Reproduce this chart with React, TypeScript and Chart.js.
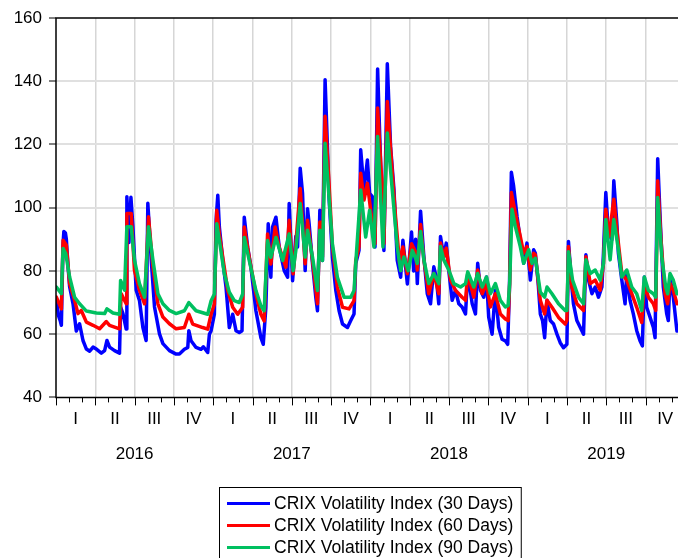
import React, { useEffect, useRef } from 'react';
import { Chart, registerables } from 'chart.js';

Chart.register(...registerables);

// x = months since 1 Jan 2016, y = index value
const crix30: [number, number][] = [
  [0.03,71],[0.18,66],[0.34,64],[0.41,62.8],[0.53,88],[0.60,92.5],[0.72,92],[0.79,90],[0.91,82],[1.04,75],
  [1.30,69.6],[1.55,61],[1.80,63.3],[2.06,58],[2.32,55.3],[2.57,54.6],[2.83,55.9],[3.08,55.3],[3.46,54],[3.71,54.8],
  [3.89,58],[4.09,55.9],[4.47,54.8],[4.85,54],[4.93,68.6],[5.11,66.5],[5.36,61.6],[5.41,103.5],[5.57,89],[5.72,103.3],
  [5.87,94],[6.12,73.9],[6.37,70.7],[6.63,62.2],[6.88,58],[7.01,101.4],[7.27,83.4],[7.52,68.6],[7.90,60.1],[8.16,57],
  [8.66,54.8],[9.17,53.7],[9.42,53.7],[9.80,55.2],[10.06,55.8],[10.14,61.1],[10.31,57.9],[10.69,55.8],[11.07,55.2],[11.25,56],
  [11.58,54.2],[11.71,60],[11.84,61.1],[12.09,66.3],[12.22,96],[12.35,103.9],[12.47,93.9],[12.73,83.3],[12.98,74.8],[13.23,62.1],
  [13.49,66.3],[13.74,61.1],[13.99,60.5],[14.20,61.1],[14.37,97],[14.63,87.5],[14.88,81.2],[15.26,67.4],[15.64,58.9],[15.82,56.8],
  [16.02,68.5],[16.20,94.9],[16.40,78],[16.53,93.9],[16.79,97],[17.04,87.5],[17.42,80.1],[17.68,78],[17.80,101.3],[18.06,76.9],
  [18.31,91],[18.44,87.6],[18.64,112.5],[18.82,104.5],[19.02,80.1],[19.20,99.7],[19.32,95],[19.58,82.3],[19.83,71.7],[19.96,67.4],
  [20.14,99.2],[20.34,83.3],[20.54,140.5],[20.72,119.3],[20.84,103.4],[21.10,84.4],[21.36,73.8],[21.61,67.4],[21.87,63.2],[22.25,62.1],
  [22.50,64.3],[22.75,66.4],[22.88,82.3],[23.13,86.5],[23.26,118.3],[23.51,105.6],[23.77,115.1],[23.94,104.5],[24.15,103.5],[24.35,87.6],
  [24.55,143.9],[24.78,114],[25.03,86.5],[25.29,145.5],[25.54,119.3],[25.80,105.6],[26.05,83.3],[26.31,78],[26.48,89.7],[26.82,75.9],
  [27.14,92.3],[27.30,80],[27.45,90],[27.58,76],[27.83,98.9],[28.08,84.5],[28.34,72.8],[28.59,69.6],[28.84,81.3],[29.02,78.1],
  [29.22,69.6],[29.35,90.9],[29.60,84.5],[29.79,88.8],[29.98,80.2],[30.24,70.7],[30.49,73.9],[30.75,69.6],[31.00,68.6],[31.26,66.4],
  [31.43,79.2],[31.77,69.6],[32.02,66.4],[32.19,82.4],[32.40,73.9],[32.65,71.7],[32.86,78.1],[33.03,65.4],[33.29,60],[33.54,73.9],
  [33.79,62.2],[34.05,58.4],[34.30,57.9],[34.48,56.8],[34.61,73.9],[34.76,111.2],[34.93,106.9],[35.19,97.3],[35.44,89.9],[35.70,82.4],
  [35.95,88.8],[36.21,77.1],[36.46,86.7],[36.59,85.6],[36.79,77.1],[36.97,66.4],[37.14,64.3],[37.30,58.9],[37.48,70.7],[37.73,64.3],
  [37.98,63.2],[38.24,60],[38.49,57.3],[38.74,55.7],[39.00,56.8],[39.12,89.3],[39.33,77.1],[39.50,69.6],[39.76,64.3],[40.02,62.1],
  [40.27,60],[40.45,85.1],[40.65,77.1],[40.91,72.8],[41.16,74.9],[41.41,71.7],[41.67,74.9],[41.79,85.6],[41.97,104.8],[42.17,92],
  [42.43,89.9],[42.58,108.5],[42.81,95.2],[42.93,85.6],[43.19,77.1],[43.44,69.6],[43.57,79.2],[43.82,70.7],[44.07,66.4],[44.33,61.1],
  [44.58,57.9],[44.76,56.3],[44.91,78.1],[45.09,68.5],[45.35,65.3],[45.60,62.1],[45.73,58.9],[45.93,115.5],[46.11,97.3],[46.36,74.9],
  [46.62,66.4],[46.74,64.3],[46.87,78.1],[47.12,71.7],[47.40,61]
];

const crix60: [number, number][] = [
  [0.03,71.7],[0.41,68],[0.54,89.7],[0.79,88.1],[1.04,76],[1.42,70.7],[1.68,66.5],[1.93,67.5],[2.32,63.8],[2.83,62.8],
  [3.33,61.7],[3.84,64],[4.09,62.8],[4.85,61.7],[4.98,72.8],[5.36,69.6],[5.41,98.2],[5.74,98.2],[5.99,80.2],[6.37,73.9],
  [6.76,69.6],[7.06,97.1],[7.40,81.3],[7.78,69.6],[8.16,65.4],[8.66,63.3],[9.17,61.7],[9.80,62.1],[10.14,66.3],[10.44,63.2],
  [11.20,62.1],[11.58,61.6],[11.84,66.3],[12.09,69.5],[12.27,99.2],[12.47,91.7],[12.73,84.3],[13.11,73.8],[13.49,68.5],[13.87,66.3],
  [14.25,68.5],[14.37,93.9],[14.75,84.3],[15.26,72.7],[15.64,66.3],[15.89,64.2],[16.15,91.7],[16.40,82.2],[16.73,93.9],[17.04,87.5],
  [17.55,81.2],[17.80,96],[18.10,79.1],[18.31,88.6],[18.64,106.1],[19.02,82.3],[19.20,96],[19.58,83.3],[19.96,69.6],[20.14,95.5],
  [20.34,84.4],[20.54,128.9],[20.80,110.9],[21.10,87.6],[21.48,74.9],[21.87,68.5],[22.37,68],[22.75,70.6],[22.88,83.3],[23.13,87.6],
  [23.26,110.9],[23.51,102.4],[23.77,107.7],[24.02,99.2],[24.35,88.6],[24.55,131.5],[24.86,108.7],[25.03,88.6],[25.29,133.6],[25.62,114],
  [25.92,97.1],[26.23,82.3],[26.48,87.6],[26.82,79.1],[27.14,88.6],[27.45,86],[27.58,80.3],[27.83,94.7],[28.08,83.5],[28.46,72.8],
  [28.84,79.2],[29.22,72.8],[29.35,88.8],[29.60,84.5],[29.79,87.2],[30.11,77.1],[30.49,73.9],[31.00,71.7],[31.26,70.7],[31.43,79.2],
  [31.89,71.7],[32.19,80.3],[32.53,72.8],[32.86,76],[33.16,68.6],[33.54,72.8],[33.92,66.4],[34.30,64.8],[34.51,64.3],[34.63,76],
  [34.76,104.8],[35.06,98.4],[35.44,90.9],[35.70,85.6],[35.95,87.7],[36.21,80.3],[36.46,85.6],[36.59,85.1],[36.97,70.7],[37.30,66.4],
  [37.48,70.7],[37.86,68.5],[38.36,65.3],[38.87,63.2],[39.00,64.3],[39.12,87.7],[39.38,74.9],[39.76,69.6],[40.27,67.5],[40.45,84.5],
  [40.78,76],[41.16,77.1],[41.54,73.9],[41.79,82.4],[41.97,99.5],[42.22,90.9],[42.58,102.7],[42.81,93.1],[43.19,79.2],[43.57,77.1],
  [43.95,72.8],[44.33,68.5],[44.71,63.7],[44.91,76],[45.22,71.7],[45.60,69.6],[45.78,67.5],[45.93,108.5],[46.18,89.9],[46.49,72.8],
  [46.69,69.6],[46.87,76],[47.12,73.9],[47.40,69.6]
];

const crix90: [number, number][] = [
  [0.03,74.9],[0.41,72.8],[0.54,87.1],[0.74,85.5],[1.04,78.1],[1.42,71.7],[1.80,69.6],[2.32,67.3],[3.08,66.7],[3.71,66.5],
  [3.89,68],[4.35,66.7],[4.85,66.3],[4.93,77],[5.23,73.9],[5.41,94],[5.74,94],[5.99,83.4],[6.37,76],[6.76,71.7],
  [7.06,94],[7.40,83.4],[7.78,72.8],[8.16,69.6],[8.66,67.5],[9.17,66.5],[9.80,67.4],[10.14,70],[10.69,67.4],[11.58,66.3],
  [11.84,70.6],[12.09,72.7],[12.27,94.9],[12.47,89.6],[12.85,79.1],[13.23,73.3],[13.61,70.6],[13.99,70],[14.25,72.7],[14.37,90.6],
  [14.75,83.3],[15.26,73.8],[15.64,69],[15.89,67.4],[16.15,89.6],[16.40,84.3],[16.79,90.6],[17.30,83.3],[17.80,91.7],[18.10,80.1],
  [18.31,86.5],[18.64,101.3],[19.02,84.4],[19.20,92.9],[19.58,84.4],[19.96,73.8],[20.14,92.9],[20.34,83.3],[20.54,120.4],[20.80,105.6],
  [21.10,88.6],[21.48,78],[21.99,71.7],[22.50,71.7],[22.75,73.8],[22.88,82.3],[23.26,105.6],[23.64,90.7],[23.94,99.2],[24.27,87.6],
  [24.55,122.5],[24.96,87.6],[25.29,123.6],[25.67,105.6],[26.05,87.6],[26.31,80.1],[26.56,84.4],[26.89,80.1],[27.20,86.5],[27.45,84],
  [27.58,82.4],[27.83,92.5],[28.08,83.5],[28.46,76],[28.84,79.2],[29.22,76],[29.35,87.7],[29.60,83.5],[29.98,80.3],[30.37,76],
  [30.88,74.9],[31.26,76],[31.43,79.7],[31.89,74.9],[32.19,79.2],[32.53,74.9],[32.86,78.1],[33.16,72.8],[33.54,76],[33.92,70.7],
  [34.30,68.6],[34.51,69.1],[34.63,76],[34.81,99.5],[35.06,94.1],[35.44,87.7],[35.70,82.4],[36.08,86.7],[36.34,82.4],[36.59,84],
  [36.97,73.3],[37.30,71.7],[37.48,74.9],[37.86,72.8],[38.36,69.6],[38.87,67.5],[39.00,67.5],[39.12,86.1],[39.43,77.1],[39.89,71.7],
  [40.27,69.6],[40.45,83.5],[40.78,79.2],[41.16,80.3],[41.54,77.1],[41.79,82.4],[41.97,96.3],[42.30,83.5],[42.58,96.3],[42.93,86.7],
  [43.19,78.1],[43.57,80.3],[43.95,74.9],[44.33,72.8],[44.71,67.5],[44.91,78.1],[45.22,73.9],[45.60,72.8],[45.78,71.7],[45.93,103.2],
  [46.24,84.5],[46.54,74.9],[46.69,72.8],[46.87,79.2],[47.12,77.1],[47.40,72.8]
];

const seriesLabels = [
  'CRIX Volatility Index (30 Days)',
  'CRIX Volatility Index (60 Days)',
  'CRIX Volatility Index (90 Days)'
];
const quarterLabels = ['I', 'II', 'III', 'IV'];
const yearLabels = ['2016', '2017', '2018', '2019'];
const quarterBoundaries = [3, 6, 9, 12, 15, 18, 21, 24, 27, 30, 33, 36, 39, 42, 45];

const FONT = '"Liberation Sans", Arial, Helvetica, sans-serif';

const eviewsPlugin = {
  id: 'eviewsDecor',
  afterDraw(chart: any) {
    const { ctx, chartArea } = chart;
    const xs = chart.scales.x;
    ctx.save();
    // frame: top, left, bottom
    ctx.strokeStyle = '#000';
    ctx.lineWidth = 1.5;
    ctx.beginPath();
    ctx.moveTo(chartArea.right, chartArea.top);
    ctx.lineTo(chartArea.left, chartArea.top);
    ctx.lineTo(chartArea.left, chartArea.bottom);
    ctx.lineTo(chartArea.right, chartArea.bottom);
    ctx.stroke();

    // month ticks, longer at quarters
    ctx.lineWidth = 1;
    for (let m = 0; m <= 47; m++) {
      const x = Math.round(xs.getPixelForValue(m)) + 0.5;
      const len = m % 3 === 0 ? 8 : 5;
      ctx.beginPath();
      ctx.moveTo(x, chartArea.bottom);
      ctx.lineTo(x, chartArea.bottom + len);
      ctx.stroke();
    }

    ctx.fillStyle = '#000';
    ctx.font = '17px ' + FONT;
    ctx.textAlign = 'center';
    ctx.textBaseline = 'middle';
    for (let q = 0; q < 16; q++) {
      ctx.fillText(quarterLabels[q % 4], xs.getPixelForValue(q * 3 + 1.5), chartArea.bottom + 22);
    }
    yearLabels.forEach((y, i) => {
      ctx.fillText(y, xs.getPixelForValue(i * 12 + 6), chartArea.bottom + 57);
    });

    // legend
    const datasets = chart.data.datasets;
    ctx.font = '17.5px ' + FONT;
    let maxW = 0;
    datasets.forEach((d: any) => { maxW = Math.max(maxW, ctx.measureText(d.label).width); });
    const boxL = 219.5;
    const boxT = 487.5;
    const textX = 274;
    const boxW = textX - boxL + maxW + 8;
    ctx.lineWidth = 1;
    ctx.strokeStyle = '#000';
    ctx.strokeRect(boxL, boxT, boxW, 120);
    ctx.textAlign = 'left';
    datasets.forEach((d: any, i: number) => {
      const yy = 503.5 + i * 22;
      ctx.strokeStyle = d.borderColor;
      ctx.lineWidth = 3;
      ctx.beginPath();
      ctx.moveTo(227, yy);
      ctx.lineTo(270, yy);
      ctx.stroke();
      ctx.fillStyle = '#000';
      ctx.fillText(d.label, textX, yy + 0.5);
    });
    ctx.restore();
  }
};

const toPoints = (arr: [number, number][]) => arr.map(([x, y]) => ({ x, y }));

const lineStyle = { borderWidth: 3.5, pointRadius: 0, tension: 0, borderJoinStyle: 'round' as const, borderCapStyle: 'round' as const };

export default function App() {
  const canvasRef = useRef<HTMLCanvasElement | null>(null);

  useEffect(() => {
    if (!canvasRef.current) return;
    const chart = new Chart(canvasRef.current, {
      type: 'line',
      data: {
        datasets: [
          { label: seriesLabels[0], data: toPoints(crix30), borderColor: '#0000ff', order: 3, ...lineStyle },
          { label: seriesLabels[1], data: toPoints(crix60), borderColor: '#ff0000', order: 2, ...lineStyle },
          { label: seriesLabels[2], data: toPoints(crix90), borderColor: '#00c060', order: 1, ...lineStyle }
        ]
      },
      options: {
        animation: false,
        responsive: true,
        maintainAspectRatio: false,
        layout: { padding: { top: 18, right: 0, bottom: 160.6, left: 0 } },
        plugins: { legend: { display: false }, tooltip: { enabled: false } },
        scales: {
          x: {
            type: 'linear',
            min: 0,
            max: 47.48,
            afterBuildTicks: (scale: any) => {
              scale.ticks = quarterBoundaries.map((v) => ({ value: v }));
            },
            afterFit: (scale: any) => { scale.height = 0; },
            ticks: { display: false },
            grid: { color: '#d6d6d6', lineWidth: 1.5, drawTicks: false },
            border: { display: false }
          },
          y: {
            min: 40,
            max: 160,
            afterFit: (scale: any) => { scale.width = 56; },
            ticks: {
              stepSize: 20,
              color: '#000',
              padding: 7,
              font: { family: FONT, size: 17 }
            },
            grid: {
              color: (c: any) => (c.tick && (c.tick.value === 40 || c.tick.value === 160) ? 'rgba(0,0,0,0)' : '#e0e0e0'),
              lineWidth: 2,
              tickColor: '#000',
              tickLength: 7,
              tickWidth: 1
            },
            border: { display: false }
          }
        }
      },
      plugins: [eviewsPlugin]
    });
    return () => chart.destroy();
  }, []);

  return (
    <div style={{ position: 'absolute', left: 0, top: 0, width: 678, height: 558, background: '#fff' }}>
      <canvas ref={canvasRef} />
    </div>
  );
}
